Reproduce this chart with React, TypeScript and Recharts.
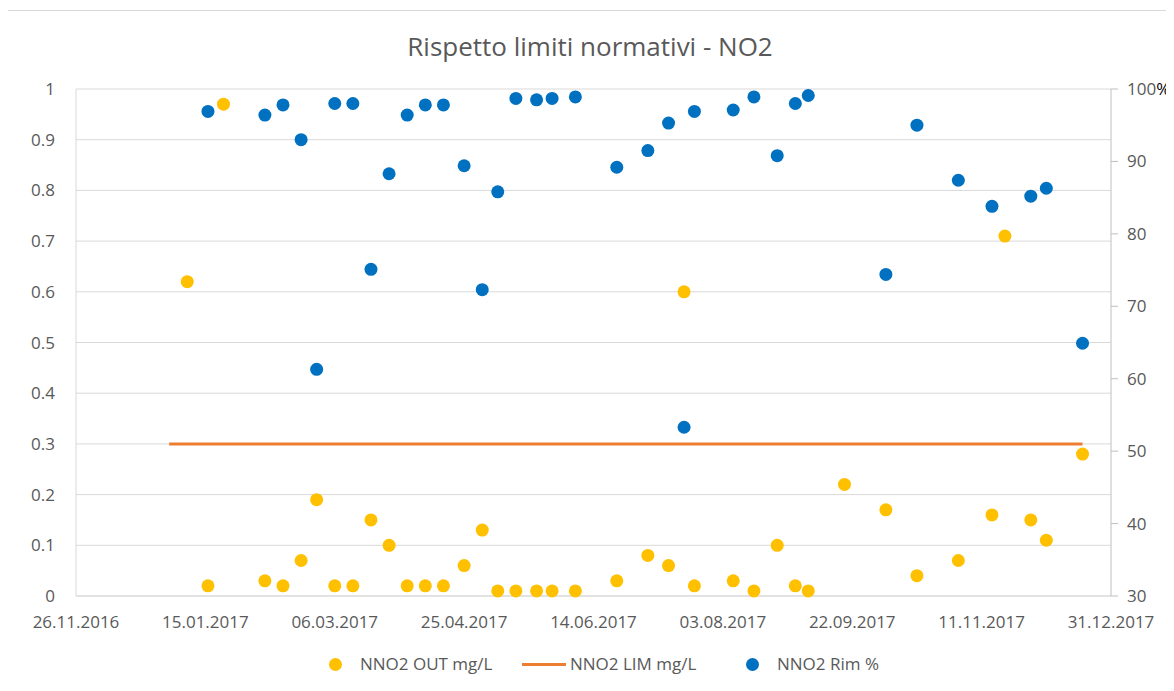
import React from 'react';
import { ComposedChart, Scatter, XAxis, YAxis, CartesianGrid } from 'recharts';

// sampling dates (dd.mm.yyyy) and readings
const sampleDates = [
  '08.01.2017', '16.01.2017', '22.01.2017', '07.02.2017', '14.02.2017', '21.02.2017',
  '27.02.2017', '06.03.2017', '13.03.2017', '20.03.2017', '27.03.2017', '03.04.2017',
  '10.04.2017', '17.04.2017', '25.04.2017', '02.05.2017', '08.05.2017', '15.05.2017',
  '23.05.2017', '29.05.2017', '07.06.2017', '23.06.2017', '05.07.2017', '13.07.2017',
  '19.07.2017', '23.07.2017', '07.08.2017', '15.08.2017', '24.08.2017', '31.08.2017',
  '05.09.2017', '19.09.2017', '05.10.2017', '17.10.2017', '02.11.2017', '15.11.2017',
  '20.11.2017', '30.11.2017', '06.12.2017', '20.12.2017',
];
const outValues = [
  0.62, 0.02, 0.97, 0.03, 0.02, 0.07,
  0.19, 0.02, 0.02, 0.15, 0.10, 0.02,
  0.02, 0.02, 0.06, 0.13, 0.01, 0.01,
  0.01, 0.01, 0.01, 0.03, 0.08, 0.06,
  0.60, 0.02, 0.03, 0.01, 0.10, 0.02,
  0.01, 0.22, 0.17, 0.04, 0.07, 0.16,
  0.71, 0.15, 0.11, 0.28,
];
const rimValues = [
  null, 96.9, null, 96.4, 97.8, 93.0,
  61.3, 98.0, 98.0, 75.1, 88.3, 96.4,
  97.8, 97.8, 89.4, 72.3, 85.8, 98.7,
  98.5, 98.7, 98.9, 89.2, 91.5, 95.3,
  53.3, 96.9, 97.1, 98.9, 90.8, 98.0,
  99.1, null, 74.4, 95.0, 87.4, 83.8,
  null, 85.2, 86.3, 64.9,
];
const limDates = ['01.01.2017', '20.12.2017'];
const limValues = [0.3, 0.3];

const xTickLabels = [
  '26.11.2016', '15.01.2017', '06.03.2017', '25.04.2017', '14.06.2017',
  '03.08.2017', '22.09.2017', '11.11.2017', '31.12.2017',
];
const leftTicks = [0, 0.1, 0.2, 0.3, 0.4, 0.5, 0.6, 0.7, 0.8, 0.9, 1];
const rightTicks = [30, 40, 50, 60, 70, 80, 90, 100];

// dd.mm.yyyy <-> spreadsheet serial day
const toSerial = (s: string) => {
  const [d, m, y] = s.split('.').map(Number);
  return Date.UTC(y, m - 1, d) / 86400000 + 25569;
};
const fromSerial = (n: number) => {
  const dt = new Date((n - 25569) * 86400000);
  const p = (v: number) => String(v).padStart(2, '0');
  return `${p(dt.getUTCDate())}.${p(dt.getUTCMonth() + 1)}.${dt.getUTCFullYear()}`;
};

const outData = sampleDates.map((d, i) => ({ d: toSerial(d), v: outValues[i] }));
const rimData = sampleDates
  .map((d, i) => ({ d: toSerial(d), v: rimValues[i] }))
  .filter(p => p.v !== null);
const limData = limDates.map((d, i) => ({ d: toSerial(d), v: limValues[i] }));
const xTicks = xTickLabels.map(toSerial);

const FONT = '"Open Sans", sans-serif';
const GREY = '#595959';
const YELLOW = '#FFC000';
const BLUE = '#0070C0';
const ORANGE = '#ED7D31';

const dot = (color: string) => (props: any) => (
  <circle cx={props.cx} cy={props.cy} r={6.5} fill={color} />
);

const RightTick = (props: any) => {
  const { x, y, payload } = props;
  return (
    <text x={x} y={y} dy="0.355em" textAnchor="start" fill={GREY} fontSize={17} fontFamily={FONT}>
      {payload.value}
      {payload.value === 100 && <tspan fill="#000">%</tspan>}
    </text>
  );
};

const legendText: React.CSSProperties = { position: 'absolute', top: 0, lineHeight: '20px', whiteSpace: 'nowrap' };

export default function App() {
  return (
    <div style={{ position: 'relative', width: 1174, height: 691, margin: -8, overflow: 'hidden', background: '#fff' }}>
      <div style={{ position: 'absolute', left: 7, top: 10, width: 1200, height: 720, borderLeft: '1px solid #D9D9D9', borderTop: '1px solid #D9D9D9' }} />
      <div style={{ position: 'absolute', left: 0, top: 28, width: 1180, textAlign: 'center', fontFamily: FONT, fontSize: 26, color: GREY }}>
        Rispetto limiti normativi - NO2
      </div>
      <div style={{ position: 'absolute', left: 0, top: 0 }}>
        <ComposedChart width={1174} height={691} margin={{ top: 89, right: 0, bottom: 0, left: 0 }}>
          <CartesianGrid yAxisId="left" vertical={false} stroke="#D9D9D9" />
          <XAxis
            dataKey="d"
            type="number"
            domain={[xTicks[0], xTicks[xTicks.length - 1]]}
            ticks={xTicks}
            tickFormatter={fromSerial}
            height={95}
            tickLine={false}
            tickMargin={14}
            axisLine={{ stroke: '#D9D9D9' }}
            tick={{ fill: GREY, fontSize: 17, fontFamily: FONT }}
            interval={0}
          />
          <YAxis
            yAxisId="left"
            type="number"
            domain={[0, 1]}
            ticks={leftTicks}
            width={76}
            tickLine={false}
            tickMargin={15}
            axisLine={{ stroke: '#D9D9D9' }}
            tick={{ fill: GREY, fontSize: 17, fontFamily: FONT }}
            interval={0}
          />
          <YAxis
            yAxisId="right"
            orientation="right"
            type="number"
            domain={[30, 100]}
            ticks={rightTicks}
            width={63}
            tickSize={7}
            tickMargin={9}
            tickLine={{ stroke: '#BFBFBF' }}
            axisLine={{ stroke: '#BFBFBF' }}
            tick={<RightTick />}
            interval={0}
          />
          <Scatter
            yAxisId="left"
            data={limData}
            dataKey="v"
            line={{ stroke: ORANGE, strokeWidth: 3 }}
            shape={() => <g />}
            isAnimationActive={false}
          />
          <Scatter yAxisId="left" data={outData} dataKey="v" shape={dot(YELLOW)} isAnimationActive={false} />
          <Scatter yAxisId="right" data={rimData} dataKey="v" shape={dot(BLUE)} isAnimationActive={false} />
        </ComposedChart>
      </div>
      <div style={{ position: 'absolute', left: 0, top: 654, width: 1174, height: 20, fontFamily: FONT, fontSize: 17, color: GREY }}>
        <span style={{ position: 'absolute', left: 329, top: 4, width: 13, height: 13, borderRadius: '50%', background: YELLOW }} />
        <span style={{ ...legendText, left: 360 }}>NNO2 OUT mg/L</span>
        <span style={{ position: 'absolute', left: 522, top: 9, width: 44, height: 3, background: ORANGE }} />
        <span style={{ ...legendText, left: 570 }}>NNO2 LIM mg/L</span>
        <span style={{ position: 'absolute', left: 746, top: 4, width: 13, height: 13, borderRadius: '50%', background: BLUE }} />
        <span style={{ ...legendText, left: 777 }}>NNO2 Rim %</span>
      </div>
    </div>
  );
}
